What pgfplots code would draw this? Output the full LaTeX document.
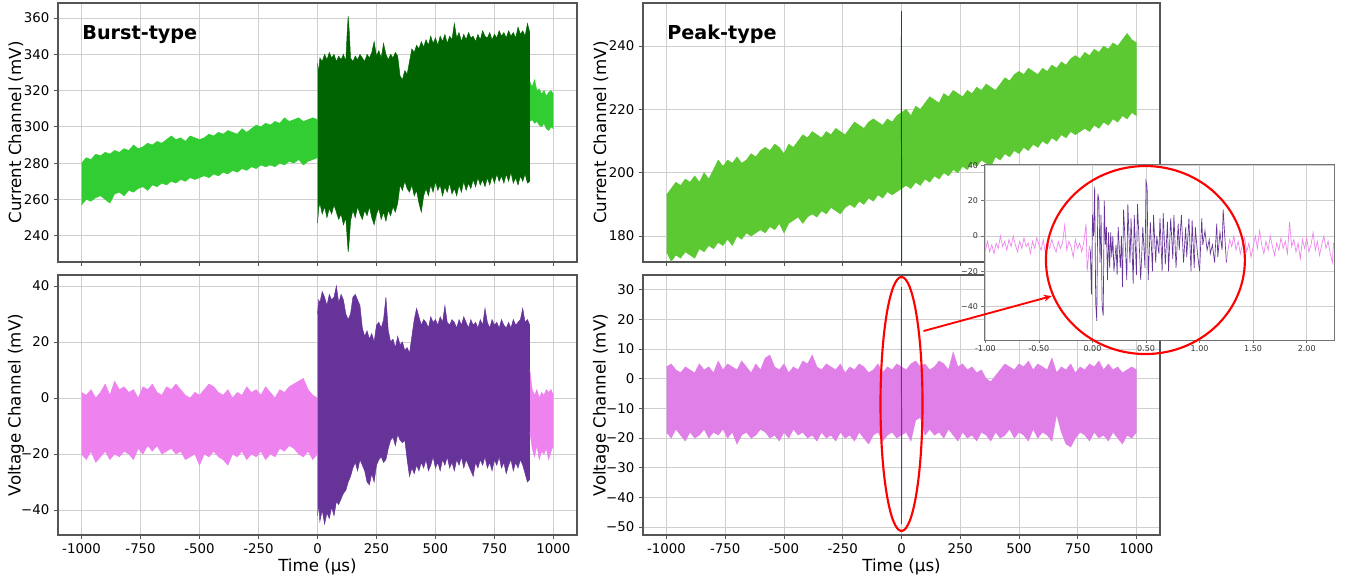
\documentclass[border=0pt]{standalone}
\usepackage{fontspec}
\setmainfont{DejaVu Sans}
\usepackage{pgfplots}
\pgfplotsset{compat=1.18}
\usepackage{pgfplotstable}
\usepgfplotslibrary{fillbetween}
\usetikzlibrary{arrows.meta}
\definecolor{lgreen}{HTML}{32CD32}
\definecolor{dgreen}{HTML}{006400}
\definecolor{pgreen}{HTML}{5CC832}
\definecolor{vio}{HTML}{EE82EE}
\definecolor{purp}{HTML}{663399}
\definecolor{pinkb}{HTML}{E07FE8}
\definecolor{framec}{HTML}{555555}
\definecolor{gridc}{HTML}{CFCFCF}

% ---------- Burst-type, current ----------
\pgfplotstableread{
x lo hi
-1000 257 280
-980 260 283
-960 259 282
-940 261 285
-920 262 284
-900 260 286
-880 258 285
-860 263 287
-840 264 286
-820 262 288
-800 265 287
-780 264 290
-760 266 288
-740 267 289
-720 265 291
-700 268 290
-680 267 292
-660 269 291
-640 268 293
-620 270 295
-600 269 293
-580 271 294
-560 270 292
-540 272 295
-520 271 294
-500 272 293
-480 273 294
-460 272 296
-440 274 295
-420 273 297
-400 275 296
-380 274 298
-360 276 297
-340 275 296
-320 277 299
-300 276 297
-280 278 299
-260 277 301
-240 279 300
-220 278 302
-200 279 301
-180 278 303
-160 280 302
-140 279 305
-120 281 303
-100 280 304
-80 282 305
-60 279 303
-40 281 304
-20 282 305
0 283 304
}\TLa
\pgfplotstableread{
x lo hi
0 247 335
5 255 330
10 258 338
20 252 336
30 256 340
40 250 337
50 255 341
60 252 338
70 257 340
80 253 336
90 249 339
100 252 337
110 246 340
120 250 336
125 240 350
130 231 361
135 238 352
140 248 338
150 254 336
160 250 339
170 256 337
180 252 340
190 249 338
200 254 336
210 251 340
220 256 338
230 250 341
240 246 347
250 252 339
260 255 342
270 249 338
280 253 346
290 248 340
300 254 337
310 251 340
320 256 338
330 253 341
340 258 339
350 268 328
360 265 326
370 270 331
380 266 329
390 264 336
400 268 343
410 262 341
420 265 345
430 258 343
440 253 347
450 262 344
460 266 348
470 262 345
480 268 350
490 264 346
500 270 349
510 265 345
520 268 350
530 262 347
540 267 351
550 264 346
560 269 350
570 263 348
580 266 357
590 262 349
600 268 352
610 264 347
620 270 351
630 265 348
640 269 352
650 266 349
660 271 350
670 267 347
680 272 351
690 268 348
700 271 353
710 267 350
720 272 349
730 268 352
740 273 348
750 269 351
760 274 349
770 270 353
780 273 350
790 269 352
800 274 349
810 270 353
820 275 350
830 269 352
840 272 349
850 268 355
860 273 351
870 270 353
880 274 350
890 269 357
900 270 352
}\TLb
\pgfplotstableread{
x lo hi
900 303 325
910 304 322
920 302 326
930 303 320
940 301 321
950 300 318
960 302 320
970 299 317
980 298 319
990 300 320
1000 299 318
}\TLc

% ---------- Burst-type, voltage ----------
\pgfplotstableread{
x lo hi
-1000 -20 2
-980 -22 1
-960 -19 3
-940 -23 0
-920 -21 2
-900 -19 5
-880 -22 1
-860 -20 6
-840 -21 3
-820 -19 4
-800 -20 2
-780 -22 3
-760 -18 0
-740 -20 4
-720 -17 3
-700 -19 5
-680 -17 2
-660 -20 1
-640 -19 4
-620 -18 3
-600 -20 5
-580 -19 3
-560 -22 1
-540 -21 0
-520 -20 2
-500 -24 1
-480 -20 3
-460 -21 5
-440 -19 4
-420 -21 2
-400 -22 1
-380 -24 3
-360 -20 0
-340 -21 2
-320 -19 1
-300 -22 4
-280 -20 2
-260 -21 3
-240 -19 1
-220 -22 4
-200 -20 2
-180 -21 0
-160 -18 3
-140 -19 2
-120 -17 4
-100 -18 5
-80 -20 6
-60 -21 7
-40 -19 3
-20 -22 1
0 -20 0
}\BLa
\pgfplotstableread{
x lo hi
0 -42 30
5 -38 35
10 -44 34
20 -40 38
30 -45 36
40 -41 33
50 -43 37
60 -39 35
70 -42 36
80 -37 40
90 -38 34
100 -36 37
110 -34 35
120 -33 30
130 -30 28
140 -28 30
150 -25 36
160 -23 37
170 -26 35
180 -22 33
190 -24 25
200 -26 22
210 -30 24
220 -31 21
230 -27 23
240 -30 20
250 -24 26
260 -22 27
270 -21 25
280 -23 28
290 -22 36
300 -18 24
310 -15 20
320 -14 21
330 -17 18
340 -13 22
350 -15 19
360 -16 20
370 -15 17
380 -22 18
390 -28 16
400 -25 22
410 -27 28
420 -24 32
430 -26 29
440 -23 26
450 -25 28
460 -22 27
470 -26 25
480 -24 29
490 -21 27
500 -25 28
510 -23 26
520 -26 29
530 -22 27
540 -24 33
550 -21 27
560 -25 26
570 -23 28
580 -26 27
590 -22 25
600 -24 28
610 -21 26
620 -25 29
630 -22 27
640 -24 25
650 -26 28
660 -28 26
670 -23 27
680 -25 25
690 -22 28
700 -24 26
710 -21 32
720 -25 27
730 -23 25
740 -26 28
750 -22 26
760 -24 27
770 -21 25
780 -25 28
790 -23 26
800 -27 25
810 -24 27
820 -22 25
830 -26 28
840 -23 26
850 -25 27
860 -22 28
870 -24 32
880 -27 27
890 -30 28
900 -29 26
}\BLb
\pgfplotstableread{
x lo hi
900 -12 10
910 -18 3
920 -21 1
930 -17 3
940 -22 0
950 -19 2
960 -20 1
970 -18 3
980 -22 2
990 -19 3
1000 -17 1
}\BLc

% ---------- Peak-type, current ----------
\pgfplotstableread{
x lo hi
-1000 175 193
-980 172 195
-960 174 197
-940 173 196
-920 175 198
-900 174 197
-880 173 199
-860 176 197
-840 175 200
-820 177 198
-800 176 201
-780 178 204
-760 177 202
-740 179 204
-720 177 203
-700 180 205
-680 179 203
-660 181 204
-640 180 206
-620 181 205
-600 182 207
-580 181 208
-560 183 207
-540 182 209
-520 184 208
-500 181 206
-480 184 209
-460 185 208
-440 186 210
-420 184 212
-400 186 211
-380 187 213
-360 186 212
-340 188 211
-320 187 213
-300 189 212
-280 188 214
-260 187 213
-240 189 212
-220 190 214
-200 189 216
-180 191 215
-160 190 214
-140 192 216
-120 191 217
-100 193 216
-80 192 215
-60 194 217
-40 193 216
-20 194 218
0 195 219
20 196 220
40 195 218
60 197 221
80 196 220
100 198 222
120 197 224
140 199 223
160 198 222
180 200 225
200 199 224
220 201 226
240 200 225
260 202 224
280 201 226
300 203 225
320 202 227
340 204 226
360 203 228
380 202 227
400 205 226
420 204 228
440 206 230
460 205 229
480 207 231
500 206 232
520 208 231
540 207 233
560 209 232
580 208 231
600 210 233
620 209 232
640 211 234
660 210 233
680 212 235
700 211 234
720 213 236
740 212 237
760 213 236
780 214 238
800 213 237
820 215 239
840 214 238
860 216 240
880 215 239
900 217 241
920 216 240
940 218 242
960 217 244
980 219 242
1000 218 241
}\TRa

% ---------- Peak-type, voltage ----------
\pgfplotstableread{
x lo hi
-1000 -18 4
-980 -20 5
-960 -17 3
-940 -19 2
-920 -21 4
-900 -18 3
-880 -20 2
-860 -19 5
-840 -17 3
-820 -20 4
-800 -18 2
-780 -19 6
-760 -17 3
-740 -20 5
-720 -18 4
-700 -22 3
-680 -19 6
-660 -18 4
-640 -20 2
-620 -19 5
-600 -17 3
-580 -18 7
-560 -20 8
-540 -19 4
-520 -21 3
-500 -18 5
-480 -20 2
-460 -17 4
-440 -19 3
-420 -18 6
-400 -20 5
-380 -19 8
-360 -21 4
-340 -18 3
-320 -20 5
-300 -19 4
-280 -21 3
-260 -18 5
-240 -20 2
-220 -19 4
-200 -21 3
-180 -18 5
-160 -20 4
-140 -22 2
-120 -19 3
-100 -18 5
-80 -21 2
-60 -19 4
-40 -18 3
-20 -20 5
0 -19 4
20 -18 3
40 -21 5
60 -14 6
80 -13 4
100 -19 5
120 -17 3
140 -19 4
160 -18 6
180 -20 5
200 -17 3
220 -19 9
240 -21 4
260 -18 5
280 -20 3
300 -19 4
320 -21 2
340 -18 3
360 -19 0
380 -21 -1
400 -18 1
420 -20 3
440 -19 5
460 -17 4
480 -20 3
500 -18 5
520 -19 4
540 -21 6
560 -17 3
580 -20 5
600 -18 4
620 -19 3
640 -21 7
660 -12 2
680 -18 4
700 -22 3
720 -23 5
740 -20 2
760 -18 4
780 -19 3
800 -21 5
820 -18 4
840 -20 6
860 -19 3
880 -21 5
900 -18 3
920 -20 4
940 -22 2
960 -19 3
980 -20 4
1000 -18 3
}\BRa

\pgfplotsset{
  base/.style={scale only axis,
    /pgf/number format/assume math mode=true,
    axis line style={framec, line width=0.8pt},
    grid=major, grid style={gridc, line width=0.6pt},
    tick style={framec, line width=0.6pt},
    tick align=outside, major tick length=3pt,
    xtick pos=bottom, ytick pos=left,
    every axis plot/.append style={line width=0.35pt},
  },
  main/.style={base, anchor=north west,
    xmin=-1100, xmax=1100,
    xtick={-1000,-750,-500,-250,0,250,500,750,1000},
    tick label style={font=\fontsize{10}{12}\selectfont},
    label style={font=\fontsize{12.5}{14}\selectfont},
    every axis y label/.style={at={(axis description cs:0,0.5)},
      xshift=-31.5pt, rotate=90, anchor=center,
      font=\fontsize{12.5}{14}\selectfont},
  },
  toprow/.style={main, height=194.25pt, xticklabels={}},
  botrow/.style={main, height=195pt,
    xticklabels={-1000,-750,-500,-250,0,250,500,750,1000},
    xlabel={Time (µs)}, xlabel style={yshift=3pt}},
}

\begin{document}
\begin{tikzpicture}

% ===== top-left: Burst-type current =====
\begin{axis}[toprow, at={(43.5pt,-2.25pt)}, width=389.25pt,
  ymin=225.5, ymax=368.3,
  ytick={240,260,280,300,320,340,360},
  yticklabels={240,260,280,300,320,340,360},
  ylabel={Current Channel (mV)}]
\addplot[lgreen, name path=tlah] table[x=x,y=hi]{\TLa};
\addplot[lgreen, name path=tlal] table[x=x,y=lo]{\TLa};
\addplot[lgreen] fill between[of=tlah and tlal];
\addplot[lgreen, name path=tlch] table[x=x,y=hi]{\TLc};
\addplot[lgreen, name path=tlcl] table[x=x,y=lo]{\TLc};
\addplot[lgreen] fill between[of=tlch and tlcl];
\addplot[dgreen, name path=tlbh] table[x=x,y=hi]{\TLb};
\addplot[dgreen, name path=tlbl] table[x=x,y=lo]{\TLb};
\addplot[dgreen] fill between[of=tlbh and tlbl];
\node[anchor=base west, font=\bfseries\fontsize{14.4}{16}\selectfont]
  at (rel axis cs:0.038,0.861) {Burst-type};
\end{axis}

% ===== bottom-left: Burst-type voltage =====
\begin{axis}[botrow, at={(43.5pt,-206.25pt)}, width=389.25pt,
  ymin=-48.9, ymax=43.9,
  ytick={-40,-20,0,20,40}, yticklabels={−40,−20,0,20,40},
  ylabel={Voltage Channel (mV)}]
\addplot[vio, name path=blah] table[x=x,y=hi]{\BLa};
\addplot[vio, name path=blal] table[x=x,y=lo]{\BLa};
\addplot[vio] fill between[of=blah and blal];
\addplot[vio, name path=blch] table[x=x,y=hi]{\BLc};
\addplot[vio, name path=blcl] table[x=x,y=lo]{\BLc};
\addplot[vio] fill between[of=blch and blcl];
\addplot[purp, name path=blbh] table[x=x,y=hi]{\BLb};
\addplot[purp, name path=blbl] table[x=x,y=lo]{\BLb};
\addplot[purp] fill between[of=blbh and blbl];
\end{axis}

% ===== top-right: Peak-type current =====
\begin{axis}[toprow, at={(482.25pt,-2.25pt)}, width=387.75pt,
  ymin=171.8, ymax=253.6,
  ytick={180,200,220,240}, yticklabels={180,200,220,240},
  ylabel={Current Channel (mV)}]
\addplot[pgreen, name path=trh] table[x=x,y=hi]{\TRa};
\addplot[pgreen, name path=trl] table[x=x,y=lo]{\TRa};
\addplot[pgreen] fill between[of=trh and trl];
\addplot[dgreen, line width=0.7pt] coordinates {(-1,210) (0,251) (0,166) (1,205)};
\node[anchor=base west, font=\bfseries\fontsize{14.4}{16}\selectfont]
  at (rel axis cs:0.038,0.861) {Peak-type};
\end{axis}

% ===== bottom-right: Peak-type voltage =====
\begin{axis}[botrow, at={(482.25pt,-206.25pt)}, width=387.75pt,
  ymin=-52.7, ymax=35,
  ytick={-50,-40,-30,-20,-10,0,10,20,30},
  yticklabels={−50,−40,−30,−20,−10,0,10,20,30},
  ylabel={Voltage Channel (mV)}]
\addplot[pinkb, name path=brh] table[x=x,y=hi]{\BRa};
\addplot[pinkb, name path=brl] table[x=x,y=lo]{\BRa};
\addplot[pinkb] fill between[of=brh and brl];
\addplot[purp, line width=0.7pt] coordinates {(-1,-5) (0,31) (0,-49) (1,-10)};
\coordinate (ellc) at (axis cs:0,-8.5);
\coordinate (arrs) at (axis cs:93.6,16.1);
\end{axis}

% ===== inset =====
\begin{axis}[base, anchor=north west, at={(738pt,-123pt)},
  width=262.5pt, height=132pt,
  axis background/.style={fill=white},
  axis line style={black!55, line width=0.6pt},
  grid style={gridc, line width=0.5pt},
  tick style={black!55, line width=0.4pt}, major tick length=2pt,
  xmin=-1.013, xmax=2.255, ymin=-58.9, ymax=40.8,
  xtick={-1,-0.5,0,0.5,1,1.5,2},
  xticklabels={-1.00,-0.50,0.00,0.50,1.00,1.50,2.00},
  ytick={-40,-20,0,20,40}, yticklabels={−40,−20,0,20,40},
  tick label style={font=\fontsize{6}{7}\selectfont, text=black!80},
  xticklabel style={yshift=1pt}, yticklabel style={xshift=1pt},
  every axis plot/.append style={line width=0.5pt}]
\addplot[vio] coordinates {
(-1.00,-8) (-0.98,-3) (-0.96,-9) (-0.94,-5) (-0.92,-10) (-0.90,-4) (-0.88,-7)
(-0.86,0) (-0.84,-6) (-0.82,-3) (-0.80,-8) (-0.78,-2) (-0.76,-6) (-0.74,0)
(-0.72,-5) (-0.70,-9) (-0.68,-3) (-0.66,-7) (-0.64,-1) (-0.62,-6) (-0.60,-4)
(-0.58,-10) (-0.56,-3) (-0.54,-7) (-0.52,-1) (-0.50,-5) (-0.48,-8) (-0.46,-2)
(-0.44,-10) (-0.42,-4) (-0.40,-7) (-0.38,-2) (-0.36,-6) (-0.34,-9) (-0.32,-3)
(-0.30,-7) (-0.28,-4) (-0.26,6) (-0.24,-8) (-0.22,-3) (-0.20,-6) (-0.18,-12)
(-0.16,-2) (-0.14,-7) (-0.12,-4) (-0.10,-9) (-0.08,-3) (-0.06,7) (-0.05,-20)
(-0.03,-6) (-0.02,-8)};
\addplot[vio] coordinates {
(1.25,-15) (1.26,-10) (1.28,-2) (1.30,-6) (1.32,0) (1.34,-8) (1.36,-3) (1.38,-10)
(1.40,-5) (1.42,-1) (1.44,-9) (1.46,-4) (1.48,-12) (1.50,-6) (1.52,0) (1.54,-7)
(1.56,3) (1.58,-5) (1.60,-10) (1.62,-3) (1.64,-8) (1.66,0) (1.68,-6) (1.70,-11)
(1.72,-4) (1.74,-8) (1.76,-1) (1.78,-7) (1.80,-3) (1.82,-10) (1.84,8) (1.86,-6)
(1.88,-2) (1.90,-9) (1.92,-4) (1.94,-13) (1.96,-2) (1.98,-7) (2.00,-1) (2.02,-9)
(2.04,-5) (2.06,2) (2.08,-8) (2.10,-3) (2.12,-11) (2.14,-5) (2.16,0) (2.18,-7)
(2.20,-3) (2.22,-10) (2.24,-15) (2.25,-4)};
\addplot[purp] coordinates {
(-0.02,-8) (-0.01,-33) (0.00,12) (0.01,0) (0.02,28) (0.03,-38) (0.04,-48)
(0.05,24) (0.06,20) (0.07,-15) (0.08,12) (0.09,-40) (0.10,-45) (0.11,20)
(0.12,-5) (0.13,5) (0.14,-25) (0.15,2) (0.16,-18) (0.17,2) (0.18,-12) (0.19,0)
(0.20,-20) (0.22,-5) (0.23,-22) (0.24,5) (0.26,-18) (0.27,0) (0.28,-29)
(0.29,15) (0.31,-10) (0.32,-25) (0.33,18) (0.35,-15) (0.36,10) (0.38,-27)
(0.39,12) (0.41,-22) (0.42,18) (0.44,-10) (0.45,-25) (0.47,5) (0.49,-18)
(0.50,31) (0.51,28) (0.52,-25) (0.54,8) (0.56,-20) (0.57,12) (0.59,-15)
(0.60,0) (0.62,-10) (0.63,10) (0.65,-20) (0.66,13) (0.68,-16) (0.70,8)
(0.71,-20) (0.73,10) (0.75,-13) (0.76,12) (0.78,-18) (0.80,7) (0.81,-8)
(0.83,12) (0.85,-15) (0.87,5) (0.88,-12) (0.90,10) (0.92,-20) (0.93,9)
(0.95,-18) (0.96,5) (0.98,-10) (1.00,-20) (1.02,10) (1.03,-5) (1.05,3)
(1.07,-8) (1.09,-2) (1.10,-10) (1.12,-5) (1.14,-15) (1.16,7) (1.17,-12)
(1.19,2) (1.21,-8) (1.22,15) (1.24,-5) (1.25,-15)};
\coordinate (circc) at (axis cs:0.494,-13.6);
\coordinate (arre) at (axis cs:-0.38,-34);
\end{axis}

% ===== annotations =====
\draw[red, line width=1.6pt] (ellc) ellipse [x radius=15.75pt, y radius=95.25pt];
\draw[red, line width=1.6pt] (circc) ellipse [x radius=74.6pt, y radius=70.5pt];
\draw[red, line width=1.4pt, -{Stealth[length=6pt,width=5pt]}] (arrs) -- (arre);

\pgfresetboundingbox
\useasboundingbox (0,0) rectangle (1008.75pt,-433.5pt);
\end{tikzpicture}
\end{document}
